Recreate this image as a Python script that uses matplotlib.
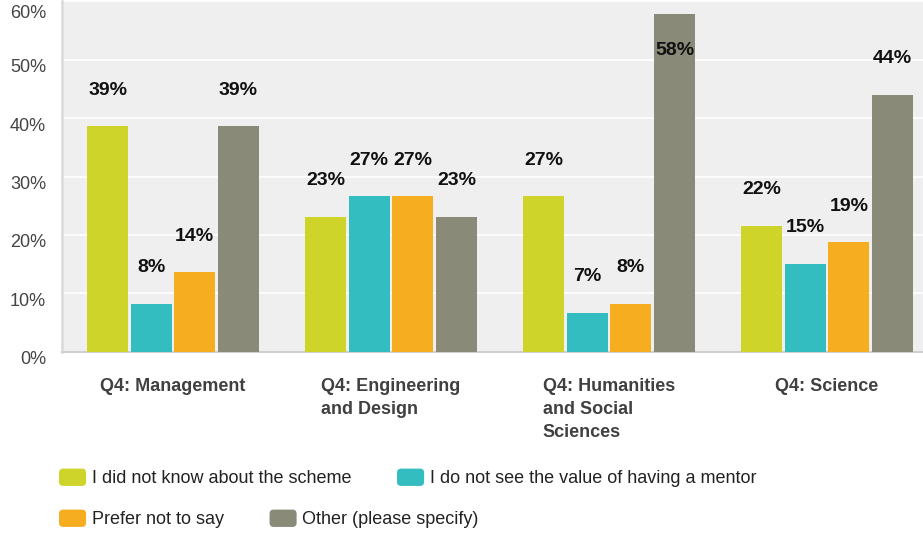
import matplotlib
matplotlib.use('Agg')
import matplotlib.pyplot as plt
import numpy as np
from matplotlib.patches import FancyBboxPatch, Patch
from matplotlib.legend_handler import HandlerPatch
from matplotlib.transforms import ScaledTranslation

plt.rcParams['font.family'] = ['Liberation Sans', 'DejaVu Sans']

# ===== datos =====
categories = ['Q4: Management', 'Q4: Engineering\nand Design',
              'Q4: Humanities\nand Social\nSciences', 'Q4: Science']
series = ['I did not know about the scheme', 'I do not see the value of having a mentor',
          'Prefer not to say', 'Other (please specify)']
not_know = [38.6, 23.1, 26.6, 21.6]
no_value = [8.2, 26.6, 6.6, 15.0]
prefer_not = [13.6, 26.6, 8.2, 18.7]
other = [38.6, 23.1, 57.8, 44.0]
y_ticks = [0, 10, 20, 30, 40, 50, 60]

values = [not_know, no_value, prefer_not, other]
colors = ['#CED42A', '#34BDC0', '#F6AE20', '#8A8A79']

# ===== figura =====
fig = plt.figure(figsize=(9.23, 5.33), dpi=100)
W, H = 923, 533
ax = fig.add_axes([62 / W, 1 - 351.7 / H, 1 - 62 / W, (351.7 - 1.3) / H])
ax.set_facecolor('#EFEFEF')

x = np.arange(len(categories))
step = 0.2
width = 0.188
for i, (vals, col) in enumerate(zip(values, colors)):
    pos = x + (i - 1.5) * step
    bars = ax.bar(pos, vals, width, color=col, label=series[i], zorder=3)
    for b, v in zip(bars, vals):
        # etiqueta por encima de la barra, o dentro si se sale del área
        ly = v + 6.2 if v + 6.2 < 58 else v - 6.3
        ax.text(b.get_x() + b.get_width() / 2, ly, f'{round(v)}%',
                ha='center', va='center', fontsize=14, fontweight='bold',
                color='#111111', zorder=4)

ax.set_ylim(0, 60)
ax.set_xlim(-0.509, 3.44)
ax.set_yticks(y_ticks)
ax.set_yticklabels([])
ax.grid(axis='y', color='white', linewidth=1.2, zorder=1)
ax.set_axisbelow(True)
ax.tick_params(length=0)

# etiquetas del eje Y desplazadas hacia abajo
for t in y_ticks:
    dy = 12.5 if t == y_ticks[-1] else 8
    off = ScaledTranslation(-16 / 100, -dy / 100, fig.dpi_scale_trans)
    ax.text(0, t, f'{t}%', transform=ax.get_yaxis_transform() + off,
            ha='right', va='center', fontsize=13, color='#444444', clip_on=False)

ax.set_xticks(x)
ax.set_xticklabels(categories, fontsize=13, fontweight='bold', color='#404040',
                   multialignment='left', va='top', linespacing=1.45)
ax.tick_params(axis='x', pad=19)

for s in ['top', 'right']:
    ax.spines[s].set_visible(False)
ax.spines['left'].set_color('#DADADA')
ax.spines['left'].set_linewidth(1.8)
ax.spines['bottom'].set_color('#D0D0D0')
ax.spines['bottom'].set_linewidth(1.5)


# ===== leyenda (dos filas) =====
def round_patch(legend, orig_handle, xdescent, ydescent, width, height, fontsize):
    return FancyBboxPatch((-xdescent, -ydescent), width, height,
                          boxstyle='round,pad=0,rounding_size=3')


handles = [Patch(facecolor=c, edgecolor='none') for c in colors]
hmap = {Patch: HandlerPatch(patch_func=round_patch)}
leg_kw = dict(ncol=2, frameon=False, fontsize=13, handlelength=1.5, handleheight=1.1,
              handletextpad=0.3, columnspacing=2.55, borderpad=0, borderaxespad=0,
              loc='center left', bbox_transform=fig.transFigure, handler_map=hmap,
              labelcolor='#222222')
leg1 = ax.legend(handles[:2], series[:2], bbox_to_anchor=(59 / W, 1 - 478 / H), **leg_kw)
ax.add_artist(leg1)
ax.legend(handles[2:], series[2:], bbox_to_anchor=(59 / W, 1 - 519 / H), **leg_kw)

plt.savefig('out.png', dpi=100)
